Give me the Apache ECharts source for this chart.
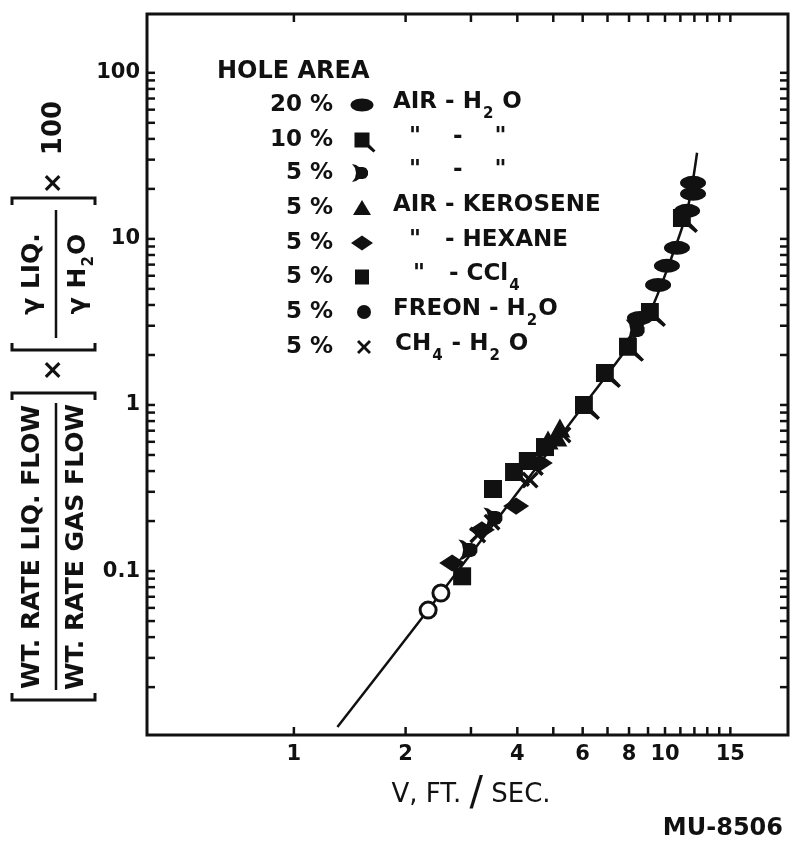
<!DOCTYPE html>
<html>
<head>
<meta charset="utf-8">
<script src="https://cdn.jsdelivr.net/npm/echarts@6/dist/echarts.min.js"></script>
<style>
  html, body { margin: 0; padding: 0; background: #fff; }
  #chart { width: 790px; height: 844px; }
</style>
</head>
<body>
<div id="chart"></div>
<script>
// ---- axis ranges and tick values (log-log) ----
const xRange = [0.402, 21.45];          // V, ft/sec
const yRange = [0.0103, 226];           // flow-ratio group x 100
const xTickValues = [1, 2, 3, 4, 5, 6, 7, 8, 9, 10, 11, 12, 13, 14, 15];
const xLabelValues = [1, 2, 4, 6, 8, 10, 15];
const yTickValues = [
  0.02, 0.03, 0.04, 0.05, 0.06, 0.07, 0.08, 0.09,
  0.1, 0.2, 0.3, 0.4, 0.5, 0.6, 0.7, 0.8, 0.9,
  1, 2, 3, 4, 5, 6, 7, 8, 9,
  10, 20, 30, 40, 50, 60, 70, 80, 90, 100
];
const yLabelValues = [0.1, 1, 10, 100];

// ---- measured points [V, ratio] ----
const air20 = [[8.56, 3.34], [9.58, 5.28], [10.12, 6.88], [10.77, 8.83], [11.47, 14.75], [11.90, 18.67], [11.90, 21.75]];
const air10 = [[3.92, 0.395], [4.27, 0.46], [6.05, 1.00], [6.89, 1.56], [7.95, 2.24], [9.11, 3.63], [11.11, 13.38]];
const air5 = [[2.98, 0.134], [3.48, 0.209], [8.41, 2.83]];
const kerosene5 = [[4.84, 0.615], [5.11, 0.641], [5.21, 0.727]];
const hexane5 = [[2.67, 0.112], [3.21, 0.177], [3.97, 0.246], [4.60, 0.447]];
const ccl4 = [[2.84, 0.093], [3.44, 0.312], [4.75, 0.558]];
const freon5 = [[2.30, 0.0582], [2.49, 0.0737]];
const methane5 = [[3.13, 0.165], [3.42, 0.197], [4.33, 0.353], [5.31, 0.66]];

// correlation curve drawn through the data
const curve = [[1.31, 0.0115], [2.30, 0.0582], [6.05, 1.00], [7.95, 2.24], [9.11, 3.63], [10.31, 7.27], [11.47, 14.75], [12.20, 33.0]];

// legend rows
const holeAreas = ['20 %', '10 %', '5 %', '5 %', '5 %', '5 %', '5 %', '5 %'];

// ---- drawing ----
const FONT = "'DejaVu Sans', sans-serif";
const INK = '#111';
const TICK = 8;

// marker outlines (px units)
const tailSquarePts = [[0, 0], [15, 0], [15, 12], [21, 18], [19, 20], [13, 15], [0, 15]];
const dShapePts = [[0, 0], [4, 1], [7, 3], [11, 3], [14, 4], [16, 7], [16, 11], [14, 14], [11, 15], [7, 15], [4, 17], [0, 18], [3, 14], [4, 9], [3, 4]];
const crossPts = [[0, 2], [2, 0], [7, 5], [12, 0], [14, 2], [9, 7], [14, 12], [12, 14], [7, 9], [2, 14], [0, 12], [5, 7]];
const trianglePts = [[0, -8], [9, 7], [-9, 7]];
const diamondPts = [[-11, 0], [0, -7.5], [11, 0], [0, 7.5]];

function symbolPath(pts) {
  return 'path://M' + pts.map(p => p[0] + ',' + p[1]).join('L') + 'Z';
}
const ellipseSymbol = 'path://M0,6A12,6,0,1,1,24,6A12,6,0,1,1,0,6Z';

function scatter(name, data, symbol, size, offset, itemStyle) {
  return {
    name, type: 'scatter', data, symbol, symbolSize: size,
    symbolOffset: offset || [0, 0], symbolKeepAspect: false,
    itemStyle: Object.assign({ color: INK, opacity: 1 }, itemStyle || {}),
    z: 4, silent: true
  };
}

const richSub = {
  s: { fontSize: 15, fontFamily: FONT, fontWeight: 'bold', padding: [16, 1, 0, 1], verticalAlign: 'top', lineHeight: 15 },
  m: { fontSize: 23, fontFamily: FONT, fontWeight: 'bold', verticalAlign: 'top', lineHeight: 28 }
};

const legendLabels = [
  '{m|AIR - H}{s|2}{m| O}',
  '{m|"    -    "}',
  '{m|"    -    "}',
  '{m|AIR - KEROSENE}',
  '{m|"   - HEXANE}',
  '{m|"   - CCl}{s|4}',
  '{m|FREON - H}{s|2}{m|O}',
  '{m|CH}{s|4}{m| - H}{s|2}{m| O}'
];
const labelX = [393, 409, 409, 393, 409, 413, 393, 395];
const rowY = [105, 140, 173, 208, 243, 277, 312, 347];
const markerX = 362;

function polyAt(pts, cx, cy, dx, dy) {
  return { type: 'polygon', shape: { points: pts.map(p => [p[0] + cx - dx, p[1] + cy - dy]) }, style: { fill: INK } };
}

function legendMarker(i, y) {
  switch (i) {
    case 0: return { type: 'ellipse', shape: { cx: markerX, cy: y, rx: 11.5, ry: 6.5 }, style: { fill: INK } };
    case 1: return polyAt(tailSquarePts, markerX, y, 7.5, 7.5);
    case 2: return polyAt(dShapePts, markerX, y, 10, 9);
    case 3: return polyAt(trianglePts, markerX, y, 0, 0);
    case 4: return polyAt(diamondPts, markerX, y, 0, 0);
    case 5: return { type: 'rect', shape: { x: markerX - 7, y: y - 7.5, width: 14, height: 15 }, style: { fill: INK } };
    case 6: return { type: 'circle', shape: { cx: markerX + 2, cy: y, r: 7 }, style: { fill: INK } };
    default: return polyAt(crossPts, markerX + 2, y, 7, 7);
  }
}

const graphics = [];
graphics.push({
  type: 'text', x: 217, y: 72,
  style: { text: 'HOLE AREA', font: 'bold 24px ' + FONT, fill: INK, textAlign: 'left', textVerticalAlign: 'middle', align: 'left', verticalAlign: 'middle' }
});
holeAreas.forEach((t, i) => {
  const y = rowY[i];
  graphics.push({
    type: 'text', x: 333, y: y,
    style: { text: t, font: 'bold 23px ' + FONT, fill: INK, textAlign: 'right', textVerticalAlign: 'middle', align: 'right', verticalAlign: 'middle' }
  });
  graphics.push(legendMarker(i, y));
  graphics.push({
    type: 'text', x: labelX[i], y: y - 14,
    style: { text: legendLabels[i], rich: richSub, fill: INK, textAlign: 'left', textVerticalAlign: 'top', align: 'left', verticalAlign: 'top' }
  });
});

// rotated ordinate title
const titleText = (text, x, y, size) => ({
  type: 'text', x, y,
  style: {
    text, fill: INK, textAlign: 'center', textVerticalAlign: 'middle', align: 'center', verticalAlign: 'middle',
    rich: {
      m: { fontSize: size, fontFamily: FONT, fontWeight: 'bold', verticalAlign: 'top', lineHeight: size + 4 },
      s: { fontSize: Math.round(size * 0.6), fontFamily: FONT, fontWeight: 'bold', verticalAlign: 'top', padding: [Math.round(size * 0.62), 1, 0, 1], lineHeight: Math.round(size * 0.6) }
    }
  }
});
const bracket = (pts) => ({ type: 'polyline', shape: { points: pts }, style: { stroke: INK, lineWidth: 3, fill: null } });
const bar = (x1, x2, y) => ({ type: 'line', shape: { x1, y1: y, x2, y2: y }, style: { stroke: INK, lineWidth: 2.5 } });

graphics.push({
  type: 'group', x: 12, y: 700, rotation: Math.PI / 2,
  children: [
    bracket([[7, 0], [0, 0], [0, 83], [7, 83]]),
    bracket([[300, 0], [307, 0], [307, 83], [300, 83]]),
    titleText('{m|WT. RATE LIQ. FLOW}', 153, 22, 25),
    bar(10, 297, 44),
    titleText('{m|WT. RATE GAS FLOW}', 153, 66, 25),
    titleText('{m|×}', 330, 44, 27),
    bracket([[357, 0], [350, 0], [350, 83], [357, 83]]),
    bracket([[495, 0], [502, 0], [502, 83], [495, 83]]),
    titleText('{m|γ LIQ.}', 426, 22, 25),
    bar(362, 490, 44),
    titleText('{m|γ H}{s|2}{m|O}', 426, 68, 25),
    titleText('{m|×}', 517, 44, 27),
    titleText('{m|100}', 572, 44, 26)
  ]
});

// abscissa title and drawing number
graphics.push({
  type: 'text', x: 471, y: 795,
  style: {
    text: '{m|V, FT. }{b|/}{m| SEC.}', textAlign: 'center', textVerticalAlign: 'middle', align: 'center', verticalAlign: 'middle', fill: INK,
    rich: { m: { fontSize: 26, fontFamily: FONT, verticalAlign: 'middle' }, b: { fontSize: 40, fontFamily: FONT, verticalAlign: 'middle' } }
  }
});
graphics.push({
  type: 'text', x: 783, y: 829,
  style: { text: 'MU-8506', font: 'bold 24px ' + FONT, fill: INK, textAlign: 'right', textVerticalAlign: 'middle', align: 'right', verticalAlign: 'middle' }
});

const lineStyle = { stroke: INK, lineWidth: 2.5 };

const option = {
  animation: false,
  backgroundColor: '#fff',
  grid: { left: 147, top: 14, width: 641, height: 721, show: true, borderColor: INK, borderWidth: 3, backgroundColor: 'transparent' },
  xAxis: {
    type: 'log', logBase: 10, min: xRange[0], max: xRange[1],
    axisLine: { show: false }, axisTick: { show: false }, axisLabel: { show: false }, splitLine: { show: false }
  },
  yAxis: {
    type: 'log', logBase: 10, min: yRange[0], max: yRange[1],
    axisLine: { show: false }, axisTick: { show: false }, axisLabel: { show: false }, splitLine: { show: false }
  },
  graphic: { elements: graphics },
  series: [
    {
      name: 'xTicks', type: 'custom', clip: false, silent: true, z: 5,
      data: xTickValues.map(v => [v, yRange[0]]),
      renderItem: (params, api) => {
        const v = api.value(0);
        const b = api.coord([v, yRange[0]]);
        const t = api.coord([v, yRange[1]]);
        return { type: 'group', children: [
          { type: 'line', shape: { x1: b[0], y1: b[1], x2: b[0], y2: b[1] - TICK }, style: lineStyle },
          { type: 'line', shape: { x1: t[0], y1: t[1], x2: t[0], y2: t[1] + TICK }, style: lineStyle }
        ] };
      }
    },
    {
      name: 'yTicks', type: 'custom', clip: false, silent: true, z: 5,
      data: yTickValues.map(v => [xRange[0], v]),
      renderItem: (params, api) => {
        const v = api.value(1);
        const l = api.coord([xRange[0], v]);
        const r = api.coord([xRange[1], v]);
        return { type: 'group', children: [
          { type: 'line', shape: { x1: l[0], y1: l[1], x2: l[0] + TICK, y2: l[1] }, style: lineStyle },
          { type: 'line', shape: { x1: r[0], y1: r[1], x2: r[0] - TICK, y2: r[1] }, style: lineStyle }
        ] };
      }
    },
    {
      name: 'xLabels', type: 'custom', clip: false, silent: true, z: 5,
      data: xLabelValues.map(v => [v, yRange[0]]),
      renderItem: (params, api) => {
        const v = api.value(0);
        const p = api.coord([v, yRange[0]]);
        return { type: 'text', x: p[0], y: p[1] + 20, style: {
          text: String(v), font: 'bold 21px ' + FONT, fill: INK,
          textAlign: 'center', textVerticalAlign: 'middle', align: 'center', verticalAlign: 'middle'
        } };
      }
    },
    {
      name: 'yLabels', type: 'custom', clip: false, silent: true, z: 5,
      data: yLabelValues.map(v => [xRange[0], v]),
      renderItem: (params, api) => {
        const v = api.value(1);
        const p = api.coord([xRange[0], v]);
        return { type: 'text', x: p[0] - 7, y: p[1], style: {
          text: String(v), font: 'bold 21px ' + FONT, fill: INK,
          textAlign: 'right', textVerticalAlign: 'middle', align: 'right', verticalAlign: 'middle'
        } };
      }
    },
    {
      name: 'correlation', type: 'line', data: curve, smooth: 0.3, showSymbol: false, symbol: 'none',
      lineStyle: { color: INK, width: 2.5 }, z: 3, silent: true
    },
    scatter('20% AIR-H2O', air20, ellipseSymbol, [26, 14]),
    scatter('10% AIR-H2O', air10, symbolPath(tailSquarePts), [25, 24], [3.5, 3]),
    scatter('5% AIR-H2O', air5, symbolPath(dShapePts), [19, 21], [-2, 0]),
    scatter('5% AIR-KEROSENE', kerosene5, 'triangle', [21, 19]),
    scatter('5% AIR-HEXANE', hexane5, 'diamond', [26, 17]),
    scatter('5% AIR-CCl4', ccl4, 'rect', [18, 18]),
    scatter('5% FREON-H2O', freon5, 'circle', 16, [0, 0], { color: '#fff', borderColor: INK, borderWidth: 3 }),
    scatter('5% CH4-H2O', methane5, symbolPath(crossPts), [17, 17])
  ]
};

const chart = echarts.init(document.getElementById('chart'), null, { renderer: 'canvas', width: 790, height: 844 });
chart.setOption(option);
</script>
</body>
</html>
